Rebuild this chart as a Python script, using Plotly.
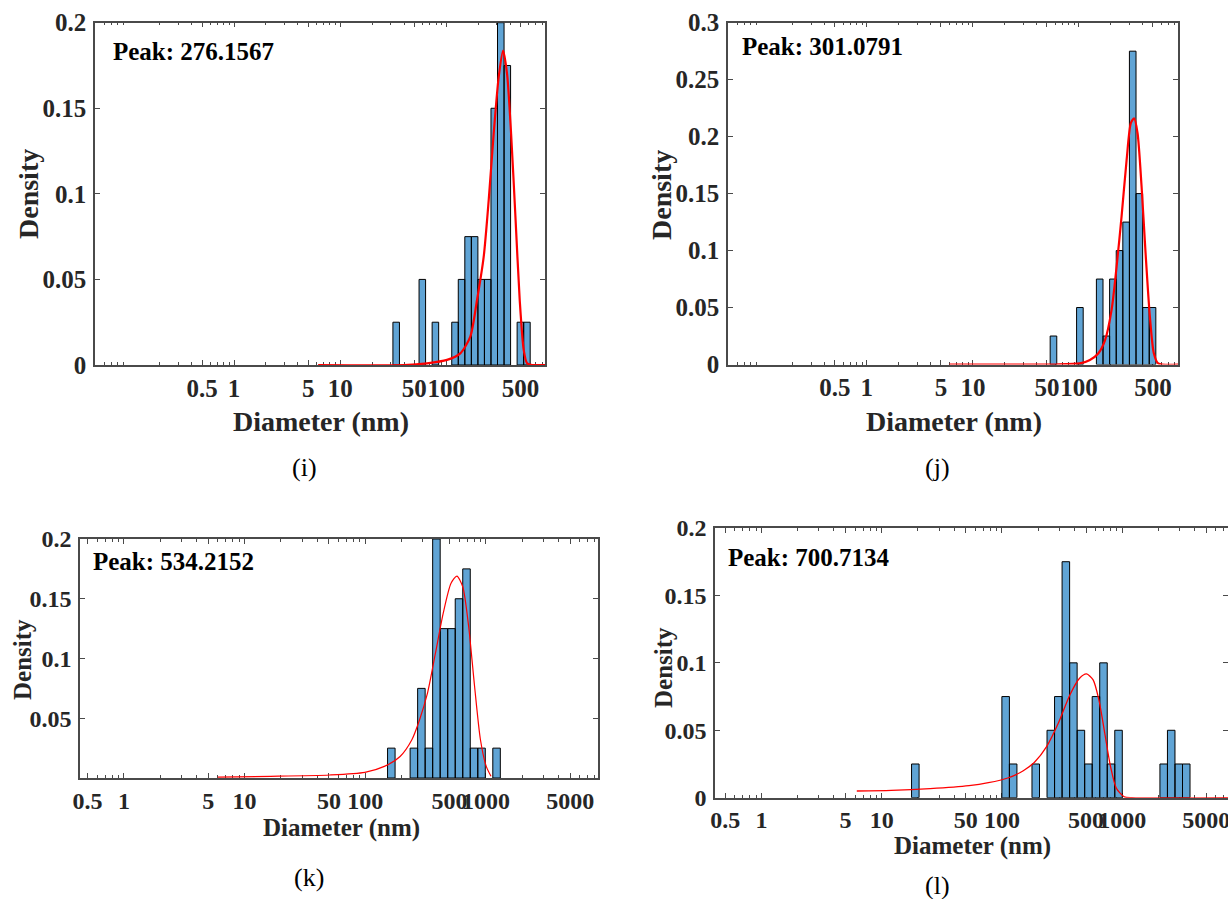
import plotly.graph_objects as go

W, H = 1228, 899

# ---------------- data ----------------
# histogram bins: left edge of first bin (nm), bin width (decades), density per bin
i_bin_start_nm = 31.4
i_bin_width_dec = 0.0616
i_density = [0.025, 0, 0, 0, 0.05, 0, 0.025, 0, 0, 0.025, 0.05, 0.075, 0.075,
             0.05, 0.05, 0.15, 0.2, 0.175, 0, 0.025, 0.025]
i_fit_nm = [6.2, 40, 65.8, 101.6, 135.6, 168.4, 194.8, 224.9, 250.7, 279.4, 311.4,
            342.7, 373.9, 408.1, 447.8, 491.7, 536.3, 577, 643, 900]
i_fit_density = [0, 0, 0.001, 0.003, 0.0068, 0.0166, 0.038, 0.063, 0.096, 0.135, 0.168,
                 0.1837, 0.170, 0.135, 0.087, 0.038, 0.0088, 0.001, 0, 0]
i_peak = "Peak: 276.1567"

j_bin_start_nm = 53.6
j_bin_width_dec = 0.0623
j_density = [0.025, 0, 0, 0, 0.05, 0, 0, 0.075, 0.025, 0.075, 0.1, 0.125, 0.275,
             0.15, 0.05, 0.05]
j_fit_nm = [6.0, 60, 102.2, 127.0, 152.2, 176.0, 203.5, 226.9, 252.8, 281.7, 309.4,
            332.3, 357.7, 390.4, 425.9, 467.3, 509.8, 559.7, 880]
j_fit_density = [0, 0, 0.001, 0.004, 0.0097, 0.021, 0.048, 0.086, 0.130, 0.179, 0.212,
                 0.216, 0.203, 0.156, 0.0975, 0.042, 0.0097, 0.001, 0]
j_peak = "Peak: 301.0791"

k_bin_start_nm = 153.1
k_bin_width_dec = 0.0623
k_density = [0.025, 0, 0, 0.025, 0.075, 0.025, 0.2, 0.125, 0.125, 0.15, 0.175,
             0.025, 0.025, 0, 0.025]
k_fit_nm = [6.0, 16.5, 50.7, 99.3, 144, 194.4, 243.4, 282.5, 328, 381, 443, 514, 575,
            643, 719, 805, 901, 1007, 1102]
k_fit_density = [0.0008, 0.0014, 0.0025, 0.0047, 0.0097, 0.018, 0.032, 0.049, 0.071,
                 0.104, 0.138, 0.163, 0.169, 0.160, 0.127, 0.077, 0.032, 0.0097, 0.0014]
k_peak = "Peak: 534.2152"

l_bin_start_nm = 17.7
l_bin_width_dec = 0.0626
l_density = [0.025, 0, 0, 0, 0, 0, 0, 0, 0, 0, 0, 0, 0.075, 0.025, 0, 0, 0.025, 0,
             0.05, 0.075, 0.175, 0.1, 0.05, 0.025, 0.075, 0.1, 0.025, 0.05, 0, 0, 0,
             0, 0, 0.025, 0.05, 0.025, 0.025]
l_fit_nm = [6.2, 12.0, 25.3, 53.2, 77.1, 111.7, 150.4, 188, 235, 294, 367, 442, 505,
            573, 640, 716, 800, 895, 1038, 1204, 9000]
l_fit_density = [0.00495, 0.0054, 0.0067, 0.0089, 0.0111, 0.0146, 0.020, 0.0267, 0.0379,
                 0.0552, 0.0762, 0.0886, 0.0918, 0.0874, 0.0725, 0.0478, 0.023, 0.0069,
                 0.0007, 0, 0]
l_peak = "Peak: 700.7134"

x_ticks_top = [0.5, 1, 5, 10, 50, 100, 500]
x_ticks_bottom = [0.5, 1, 5, 10, 50, 100, 500, 1000, 5000]
y_ticks_02 = [0, 0.05, 0.1, 0.15, 0.2]
y_ticks_03 = [0, 0.05, 0.1, 0.15, 0.2, 0.25, 0.3]
y_ticks_k = [0.05, 0.1, 0.15, 0.2]
panel_labels = ["(i)", "(j)", "(k)", "(l)"]
x_title = "Diameter (nm)"
y_title = "Density"

# ---------------- style ----------------
SERIF = "Liberation Serif, Times New Roman, serif"
AXC = "#4a4a4a"
TXT = "#262626"
BAR_FILL = "rgb(96,164,213)"
minor_vals = [m * 10 ** e for e in range(-2, 5) for m in range(2, 10)]


def px_x(p):
    return p / W


def px_y(p):
    return 1 - p / H


# panel geometry in pixels: left, right, top, bottom ; x-range (log10); y max
panels = [
    dict(name="i", l=95, r=545, t=22.7, b=365, xr=[-1.31, 2.93], ymax=0.2,
         yt=y_ticks_02, xt=x_ticks_top, fs=25, ts=28, lw=2.2,
         data=(i_bin_start_nm, i_bin_width_dec, i_density, i_fit_nm, i_fit_density, i_peak),
         peak_xy=(111, 52), xt_xy=(321, 421), yt_xy=(28, 194), lab_xy=(304, 468)),
    dict(name="j", l=728, r=1178, t=22.7, b=364.5, xr=[-1.31, 2.935], ymax=0.3,
         yt=y_ticks_03, xt=x_ticks_top, fs=25, ts=28, lw=2.2,
         data=(j_bin_start_nm, j_bin_width_dec, j_density, j_fit_nm, j_fit_density, j_peak),
         peak_xy=(740, 47), xt_xy=(954, 421), yt_xy=(662, 195), lab_xy=(937, 468)),
    dict(name="k", l=80, r=598, t=539, b=778, xr=[-0.364, 3.929], ymax=0.2,
         yt=y_ticks_k, xt=x_ticks_bottom, fs=24, ts=25, lw=1.2,
         data=(k_bin_start_nm, k_bin_width_dec, k_density, k_fit_nm, k_fit_density, k_peak),
         peak_xy=(91, 561), xt_xy=(341, 828), yt_xy=(22, 660), lab_xy=(309, 877)),
    dict(name="l", l=715, r=1228, t=528, b=797.7, xr=[-0.387, 3.88], ymax=0.2,
         yt=y_ticks_02, xt=x_ticks_bottom, fs=24, ts=25, lw=1.3,
         data=(l_bin_start_nm, l_bin_width_dec, l_density, l_fit_nm, l_fit_density, l_peak),
         peak_xy=(726, 557), xt_xy=(972, 846), yt_xy=(663, 668), lab_xy=(937, 885)),
]


def bar_polygons(start, wdec, dens):
    xs, ys = [], []
    for k, d in enumerate(dens):
        if d <= 0:
            continue
        x0 = start * 10 ** (k * wdec)
        x1 = start * 10 ** ((k + 1) * wdec)
        xs += [x0, x0, x1, x1, x0, None]
        ys += [0, d, d, 0, 0, None]
    return xs, ys


def fmt(v):
    return f"{v:g}"


fig = go.Figure()
layout = dict(width=W, height=H, margin=dict(l=0, r=0, t=0, b=0, pad=0, autoexpand=False),
              paper_bgcolor="white", plot_bgcolor="white", showlegend=False,
              font=dict(family=SERIF, color=TXT))
annotations = []

for n, p in enumerate(panels, start=1):
    xa = "x" if n == 1 else f"x{n}"
    ya = "y" if n == 1 else f"y{n}"
    start, wdec, dens, fx, fy, peak = p["data"]
    bx, by = bar_polygons(start, wdec, dens)
    fig.add_trace(go.Scatter(x=bx, y=by, xaxis=xa, yaxis=ya, mode="lines",
                             fill="toself", fillcolor=BAR_FILL,
                             line=dict(color="black", width=1), hoverinfo="skip"))
    fig.add_trace(go.Scatter(x=fx, y=fy, xaxis=xa, yaxis=ya, mode="lines",
                             line=dict(color="#ff0000", width=p["lw"], shape="spline",
                                       smoothing=0.7)))
    tickfont = dict(family=SERIF, size=p["fs"], color=TXT, weight="bold")
    layout["xaxis" if n == 1 else f"xaxis{n}"] = dict(
        type="log", domain=[px_x(p["l"]), min(1, px_x(p["r"]))], range=p["xr"],
        anchor=ya, automargin=False, tickmode="array", tickvals=p["xt"],
        ticktext=[fmt(t) for t in p["xt"]], ticklabeloverflow="allow",
        tickangle=0, ticks="inside", ticklen=5, tickwidth=1, tickcolor=AXC,
        showline=True, linecolor=AXC, linewidth=1.5, mirror="allticks",
        showgrid=False, zeroline=False, tickfont=tickfont, ticklabelstandoff=0,
        minor=dict(tickmode="array", tickvals=minor_vals, ticks="inside", ticklen=3,
                   tickwidth=1, tickcolor=AXC, showgrid=False),
        layer="below traces")
    layout["yaxis" if n == 1 else f"yaxis{n}"] = dict(
        domain=[px_y(p["b"]), px_y(p["t"])], range=[0, p["ymax"]], anchor=xa,
        automargin=False, tickmode="array", tickvals=p["yt"],
        ticktext=[fmt(t) for t in p["yt"]], ticklabeloverflow="allow",
        ticks="inside", ticklen=5, tickwidth=1, tickcolor=AXC,
        showline=True, linecolor=AXC, linewidth=1.5, mirror="allticks",
        showgrid=False, zeroline=False, tickfont=tickfont, ticklabelstandoff=2,
        layer="below traces")
    annotations.append(dict(text=f"<b>{peak}</b>", x=px_x(p["peak_xy"][0]),
                            y=px_y(p["peak_xy"][1]), xref="paper", yref="paper",
                            xanchor="left", yanchor="middle", showarrow=False,
                            font=dict(family=SERIF, size=25, color="black")))
    annotations.append(dict(text=f"<b>{x_title}</b>", x=px_x(p["xt_xy"][0]),
                            y=px_y(p["xt_xy"][1]), xref="paper", yref="paper",
                            xanchor="center", yanchor="middle", showarrow=False,
                            font=dict(family=SERIF, size=p["ts"], color=TXT)))
    annotations.append(dict(text=f"<b>{y_title}</b>", x=px_x(p["yt_xy"][0]),
                            y=px_y(p["yt_xy"][1]), xref="paper", yref="paper",
                            xanchor="center", yanchor="middle", showarrow=False,
                            textangle=-90,
                            font=dict(family=SERIF, size=p["ts"], color=TXT)))
    annotations.append(dict(text=panel_labels[n - 1], x=px_x(p["lab_xy"][0]),
                            y=px_y(p["lab_xy"][1]), xref="paper", yref="paper",
                            xanchor="center", yanchor="middle", showarrow=False,
                            font=dict(family=SERIF, size=26, color="black")))

layout["annotations"] = annotations
fig.update_layout(**layout)
# remove the browser's default 8px page margin so the figure fills the window exactly
fig.write_html("out.html", config={"displayModeBar": False},
               post_script="document.body.style.margin='0';"
                           "document.body.style.overflow='hidden';")
